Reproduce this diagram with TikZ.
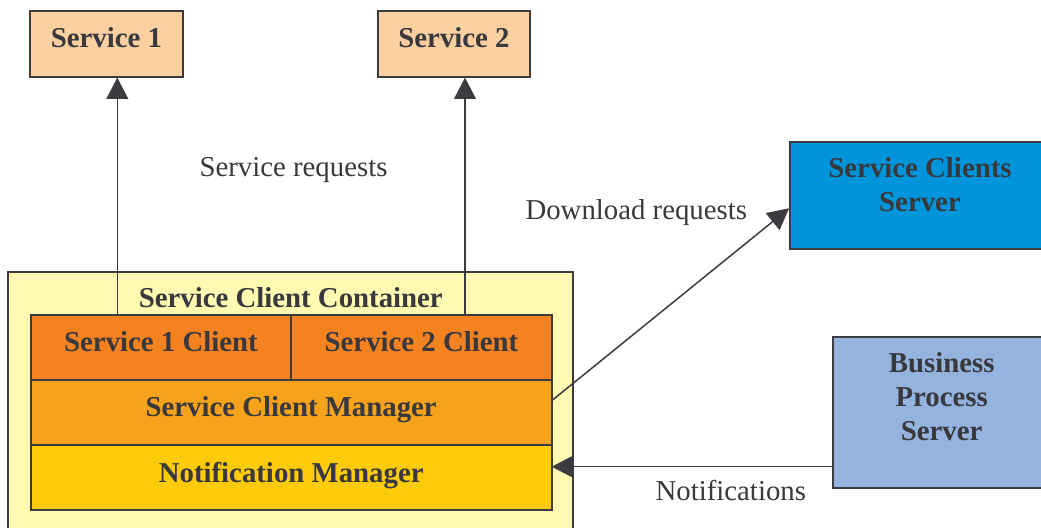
\documentclass[tikz,border=0pt]{standalone}
\usepackage{fontspec}
\setmainfont{Liberation Serif}
\usetikzlibrary{arrows.meta}
\definecolor{dg}{HTML}{3C3C40}
\definecolor{txt}{HTML}{38383D}
\definecolor{peach}{HTML}{FBD0A0}
\definecolor{paleyellow}{HTML}{FFF9B1}
\definecolor{clientorange}{HTML}{F58220}
\definecolor{mgrorange}{HTML}{F7A21B}
\definecolor{gold}{HTML}{FECB0A}
\definecolor{skyblue}{HTML}{0095DA}
\definecolor{steel}{HTML}{95B3DF}
\tikzset{
    service/.style = {rectangle,
                    fill=peach,
                    draw=dg,
                    line width=0.9pt,
                    minimum width=76.35pt,
                    minimum height=32.85pt},
    container/.style = {rectangle,
                    fill=paleyellow,
                    draw=dg,
                    line width=0.9pt,
                    minimum width=282.5pt,
                    minimum height=145pt},
    layer/.style =  {rectangle,
                    draw=dg,
                    line width=0.9pt,
                    outer sep=0pt,
                    minimum width=260.5pt,
                    minimum height=32.5pt},
    cell/.style =   {rectangle,
                    fill=clientorange,
                    draw=dg,
                    line width=0.9pt,
                    outer sep=0pt,
                    minimum width=130.25pt,
                    minimum height=32.5pt},
    server/.style = {rectangle,
                    draw=dg,
                    line width=0.9pt},
    -,
    caption/.style = {anchor=north,
                    inner sep=0pt,
                    yshift=-8.3pt,
                    align=center,
                    text=txt,
                    font=\fontsize{14.4}{16.85}\selectfont\bfseries},
    note/.style =   {anchor=base,
                    inner sep=0pt,
                    text=txt,
                    font=\fontsize{14.4}{16.85}\selectfont},
    -,
    >={Triangle[length=10.6pt,width=10.8pt]}}

\begin{document}
\begin{tikzpicture}[x=0.5pt, y=-0.5pt, node distance=32.5pt]
                \path[use as bounding box, clip] (0,0) rectangle (1041,528);
                \node[service]      (svc1) at (106.35,43.85)   {};
                \node[service]      (svc2) at (454,43.85)      {};
                \node[container]    (cont) at (290.8,416.7)    {};
                \node[layer, fill=mgrorange] (mgr) at (291.2,412.5) {};
                \node[layer, fill=gold]      (notif) [below of=mgr] {};
                \node[cell, anchor=south west] (c1) at (mgr.north west) {};
                \node[cell, anchor=south east] (c2) at (mgr.north east) {};
                \node[server, fill=skyblue, minimum width=130pt, minimum height=53.8pt]   (scs) at (920,195.5)    {};
                \node[server, fill=steel, minimum width=108.35pt, minimum height=75.8pt]  (bps) at (941.65,412.5) {};
                % texts in the boxes
                \node[caption]      (svc1txt)  at (svc1.north)  {Service 1};
                \node[caption]      (svc2txt)  at (svc2.north)  {Service 2};
                \node[caption]      (conttxt)  at (cont.north)  {Service Client Container};
                \node[caption]      (c1txt)    at (c1.north)    {Service 1 Client};
                \node[caption]      (c2txt)    at (c2.north)    {Service 2 Client};
                \node[caption]      (mgrtxt)   at (mgr.north)   {Service Client Manager};
                \node[caption]      (notiftxt) at (notif.north) {Notification Manager};
                \node[caption]      (scstxt)   at (scs.north)   {Service Clients\\Server};
                \node[caption]      (bpstxt)   at (bps.north)   {Business\\Process\\Server};
                % labels of the connectors
                \node[note]         (reqtxt)   at (293.5,176.7) {Service requests};
                \node[note]         (dltxt)    at (636.3,220)   {Download requests};
                \node[note]         (nftxt)    at (730.8,501)   {Notifications};
                \coordinate (s1x) at (117.3,0);
                \coordinate (s2x) at (465,0);
                \coordinate (bpsout) at ([yshift=-27.1pt]bps.west);
                \path [line width=0.75pt, color=dg, ->]
                                        (c1.north -| s1x) edge (svc1.south -| s1x)
                                        (c2.north -| s2x) edge (svc2.south -| s2x)
                                        ([yshift=5.9pt]mgr.east) edge ([yshift=-6.4pt]scs.west)
                                        (bpsout) edge (bpsout -| notif.east);
        \end{tikzpicture}
\end{document}
